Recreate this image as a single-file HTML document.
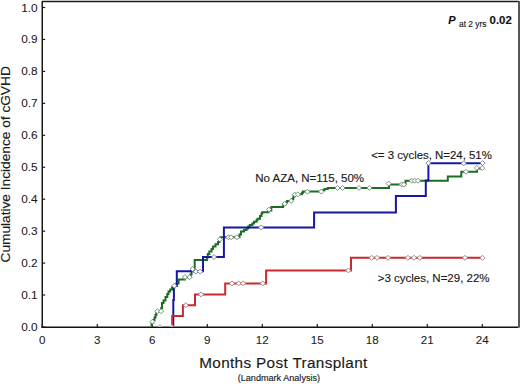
<!DOCTYPE html>
<html><head><meta charset="utf-8"><style>
html,body{margin:0;padding:0;background:#fff;width:520px;height:384px;overflow:hidden}
svg{display:block}
text{font-family:"Liberation Sans",sans-serif;stroke:#1a1a1a;stroke-width:0.15px}
text.t{stroke-width:0.08px}
</style></head><body>
<svg width="520" height="384" viewBox="0 0 520 384" font-family="Liberation Sans, sans-serif">
<rect x="0" y="0" width="520" height="384" fill="#ffffff"/>
<line x1="42.2" y1="1.5" x2="519" y2="1.5" stroke="#1a1a1a" stroke-width="1.3"/>
<line x1="519" y1="1" x2="519" y2="327.7" stroke="#575757" stroke-width="2"/>
<line x1="42.25" y1="1" x2="42.25" y2="327.7" stroke="#1a1a1a" stroke-width="1.5"/>
<line x1="41.5" y1="327.2" x2="518" y2="327.2" stroke="#111" stroke-width="1.5"/>
<line x1="42.5" y1="327.00" x2="45.2" y2="327.00" stroke="#1a1a1a" stroke-width="1.2"/>
<text class="t" x="37.6" y="331.00" font-size="11.8" text-anchor="end" fill="#1a1a1a">0.0</text>
<line x1="42.5" y1="295.05" x2="45.2" y2="295.05" stroke="#1a1a1a" stroke-width="1.2"/>
<text class="t" x="37.6" y="299.05" font-size="11.8" text-anchor="end" fill="#1a1a1a">0.1</text>
<line x1="42.5" y1="263.10" x2="45.2" y2="263.10" stroke="#1a1a1a" stroke-width="1.2"/>
<text class="t" x="37.6" y="267.10" font-size="11.8" text-anchor="end" fill="#1a1a1a">0.2</text>
<line x1="42.5" y1="231.15" x2="45.2" y2="231.15" stroke="#1a1a1a" stroke-width="1.2"/>
<text class="t" x="37.6" y="235.15" font-size="11.8" text-anchor="end" fill="#1a1a1a">0.3</text>
<line x1="42.5" y1="199.20" x2="45.2" y2="199.20" stroke="#1a1a1a" stroke-width="1.2"/>
<text class="t" x="37.6" y="203.20" font-size="11.8" text-anchor="end" fill="#1a1a1a">0.4</text>
<line x1="42.5" y1="167.25" x2="45.2" y2="167.25" stroke="#1a1a1a" stroke-width="1.2"/>
<text class="t" x="37.6" y="171.25" font-size="11.8" text-anchor="end" fill="#1a1a1a">0.5</text>
<line x1="42.5" y1="135.30" x2="45.2" y2="135.30" stroke="#1a1a1a" stroke-width="1.2"/>
<text class="t" x="37.6" y="139.30" font-size="11.8" text-anchor="end" fill="#1a1a1a">0.6</text>
<line x1="42.5" y1="103.35" x2="45.2" y2="103.35" stroke="#1a1a1a" stroke-width="1.2"/>
<text class="t" x="37.6" y="107.35" font-size="11.8" text-anchor="end" fill="#1a1a1a">0.7</text>
<line x1="42.5" y1="71.40" x2="45.2" y2="71.40" stroke="#1a1a1a" stroke-width="1.2"/>
<text class="t" x="37.6" y="75.40" font-size="11.8" text-anchor="end" fill="#1a1a1a">0.8</text>
<line x1="42.5" y1="39.45" x2="45.2" y2="39.45" stroke="#1a1a1a" stroke-width="1.2"/>
<text class="t" x="37.6" y="43.45" font-size="11.8" text-anchor="end" fill="#1a1a1a">0.9</text>
<line x1="42.5" y1="7.50" x2="45.2" y2="7.50" stroke="#1a1a1a" stroke-width="1.2"/>
<text class="t" x="37.6" y="11.50" font-size="11.8" text-anchor="end" fill="#1a1a1a">1.0</text>
<line x1="42.30" y1="324" x2="42.30" y2="327" stroke="#1a1a1a" stroke-width="1.2"/>
<text class="t" x="42.30" y="343.6" font-size="11.6" text-anchor="middle" fill="#1a1a1a">0</text>
<line x1="97.30" y1="324" x2="97.30" y2="327" stroke="#1a1a1a" stroke-width="1.2"/>
<text class="t" x="97.30" y="343.6" font-size="11.6" text-anchor="middle" fill="#1a1a1a">3</text>
<line x1="152.30" y1="324" x2="152.30" y2="327" stroke="#1a1a1a" stroke-width="1.2"/>
<text class="t" x="152.30" y="343.6" font-size="11.6" text-anchor="middle" fill="#1a1a1a">6</text>
<line x1="207.30" y1="324" x2="207.30" y2="327" stroke="#1a1a1a" stroke-width="1.2"/>
<text class="t" x="207.30" y="343.6" font-size="11.6" text-anchor="middle" fill="#1a1a1a">9</text>
<line x1="262.30" y1="324" x2="262.30" y2="327" stroke="#1a1a1a" stroke-width="1.2"/>
<text class="t" x="262.30" y="343.6" font-size="11.6" text-anchor="middle" fill="#1a1a1a">12</text>
<line x1="317.30" y1="324" x2="317.30" y2="327" stroke="#1a1a1a" stroke-width="1.2"/>
<text class="t" x="317.30" y="343.6" font-size="11.6" text-anchor="middle" fill="#1a1a1a">15</text>
<line x1="372.29" y1="324" x2="372.29" y2="327" stroke="#1a1a1a" stroke-width="1.2"/>
<text class="t" x="372.29" y="343.6" font-size="11.6" text-anchor="middle" fill="#1a1a1a">18</text>
<line x1="427.29" y1="324" x2="427.29" y2="327" stroke="#1a1a1a" stroke-width="1.2"/>
<text class="t" x="427.29" y="343.6" font-size="11.6" text-anchor="middle" fill="#1a1a1a">21</text>
<line x1="482.29" y1="324" x2="482.29" y2="327" stroke="#1a1a1a" stroke-width="1.2"/>
<text class="t" x="482.29" y="343.6" font-size="11.6" text-anchor="middle" fill="#1a1a1a">24</text>
<text x="199.2" y="368.4" font-size="15.3" letter-spacing="0.35" fill="#1a1a1a">Months Post Transplant</text>
<text x="237.7" y="380.6" font-size="9.1" fill="#1a1a1a">(Landmark Analysis)</text>
<text transform="translate(10.4,262.5) rotate(-90)" x="0" y="0" font-size="13.7" fill="#1a1a1a">Cumulative Incidence of cGVHD</text>
<text x="255.3" y="182.3" font-size="11.5" fill="#1a1a1a">No AZA, N=115, 50%</text>
<text x="491.8" y="158.8" font-size="11.4" text-anchor="end" fill="#1a1a1a">&lt;= 3 cycles, N=24, 51%</text>
<text x="377.7" y="281.7" font-size="11.5" fill="#1a1a1a">&gt;3 cycles, N=29, 22%</text>
<text x="448.3" y="24.2" font-size="11" font-weight="bold" font-style="italic" fill="#111">P</text>
<text x="459" y="26.5" font-size="8.4" fill="#1a1a1a">at 2 yrs</text>
<text x="489.6" y="24.2" font-size="11.4" font-weight="bold" fill="#111">0.02</text>
<defs><clipPath id="pa"><rect x="43" y="2" width="475" height="324.6"/></clipPath></defs><g clip-path="url(#pa)">
<path d="M151.60,327.00 L151.60,327.00 L151.60,322.50 L153.20,322.50 L153.20,320.00 L154.50,320.00 L154.50,317.50 L155.50,317.50 L155.50,315.00 L156.30,315.00 L156.30,312.50 L157.00,312.50 L157.00,311.20 L161.30,311.20 L161.30,308.00 L162.00,308.00 L162.00,303.00 L163.50,303.00 L163.50,300.50 L165.50,300.50 L165.50,297.00 L167.30,297.00 L167.30,294.00 L168.50,294.00 L168.50,291.50 L170.20,291.50 L170.20,289.50 L172.00,289.50 L172.00,287.50 L174.30,287.50 L174.30,285.50 L176.50,285.50 L176.50,283.50 L178.60,283.50 L178.60,279.40 L185.00,279.40 L185.00,277.30 L190.50,277.30 L190.50,274.50 L191.50,274.50 L191.50,271.00 L193.00,271.00 L193.00,268.50 L194.70,268.50 L194.70,260.00 L206.90,260.00 L206.90,257.50 L207.80,257.50 L207.80,254.00 L209.30,254.00 L209.30,251.50 L211.50,251.50 L211.50,249.00 L213.00,249.00 L213.00,246.50 L215.50,246.50 L215.50,244.20 L218.00,244.20 L218.00,242.00 L219.50,242.00 L219.50,239.30 L220.50,239.30 L220.50,237.30 L239.50,237.30 L239.50,234.50 L241.00,234.50 L241.00,231.50 L244.00,231.50 L244.00,230.00 L246.50,230.00 L246.50,228.50 L248.20,228.50 L248.20,226.50 L249.80,226.50 L249.80,225.00 L252.30,225.00 L252.30,223.50 L254.00,223.50 L254.00,221.80 L256.50,221.80 L256.50,220.20 L257.50,220.20 L257.50,218.80 L260.00,218.80 L260.00,216.00 L261.50,216.00 L261.50,213.50 L262.30,213.50 L262.30,212.20 L268.40,212.20 L268.40,210.50 L271.30,210.50 L271.30,206.90 L283.10,206.90 L283.10,204.50 L285.50,204.50 L285.50,202.50 L287.00,202.50 L287.00,201.00 L292.00,201.00 L292.00,199.00 L293.30,199.00 L293.30,196.50 L294.60,196.50 L294.60,194.30 L302.00,194.30 L302.00,192.80 L303.00,192.80 L303.00,191.60 L321.80,191.60 L321.80,190.20 L324.50,190.20 L324.50,189.00 L327.70,189.00 L327.70,187.90 L389.00,187.90 L389.00,184.40 L405.50,184.40 L405.50,180.70 L447.80,180.70 L447.80,176.50 L461.30,176.50 L461.30,171.80 L477.00,171.80 L477.00,168.40 L482.60,168.40 L482.60,168.40" fill="none" stroke="#1b6e23" stroke-width="2.0" stroke-linejoin="miter" stroke-linecap="square"/>
<path d="M173.30,327.00 L173.30,300.00 L173.90,300.00 L173.90,286.00 L176.80,286.00 L176.80,271.20 L203.00,271.20 L203.00,257.00 L223.90,257.00 L223.90,227.40 L314.10,227.40 L314.10,212.40 L395.90,212.40 L395.90,196.00 L425.80,196.00 L425.80,180.50 L428.40,180.50 L428.40,163.30 L482.70,163.30" fill="none" stroke="#1616a2" stroke-width="2.0" stroke-linejoin="miter" stroke-linecap="square"/>
<path d="M172.20,327.00 L172.20,316.00 L182.90,316.00 L182.90,305.20 L195.00,305.20 L195.00,294.40 L225.20,294.40 L225.20,283.40 L266.10,283.40 L266.10,270.40 L351.00,270.40 L351.00,257.80 L482.50,257.80" fill="none" stroke="#c9282e" stroke-width="2.0" stroke-linejoin="miter" stroke-linecap="square"/>
<path d="M152.50,319.20 L155.00,321.70 L152.50,324.20 L150.00,321.70 Z" fill="#fff" stroke="#6f876f" stroke-width="0.9"/>
<path d="M157.30,308.70 L159.80,311.20 L157.30,313.70 L154.80,311.20 Z" fill="#fff" stroke="#6f876f" stroke-width="0.9"/>
<path d="M161.10,308.70 L163.60,311.20 L161.10,313.70 L158.60,311.20 Z" fill="#fff" stroke="#6f876f" stroke-width="0.9"/>
<path d="M174.30,283.30 L176.80,285.80 L174.30,288.30 L171.80,285.80 Z" fill="#fff" stroke="#6f876f" stroke-width="0.9"/>
<path d="M185.00,274.50 L187.50,277.00 L185.00,279.50 L182.50,277.00 Z" fill="#fff" stroke="#6f876f" stroke-width="0.9"/>
<path d="M189.60,274.70 L192.10,277.20 L189.60,279.70 L187.10,277.20 Z" fill="#fff" stroke="#6f876f" stroke-width="0.9"/>
<path d="M192.60,266.50 L195.10,269.00 L192.60,271.50 L190.10,269.00 Z" fill="#fff" stroke="#6f876f" stroke-width="0.9"/>
<path d="M219.90,236.90 L222.40,239.40 L219.90,241.90 L217.40,239.40 Z" fill="#fff" stroke="#6f876f" stroke-width="0.9"/>
<path d="M228.40,234.80 L230.90,237.30 L228.40,239.80 L225.90,237.30 Z" fill="#fff" stroke="#6f876f" stroke-width="0.9"/>
<path d="M231.10,234.80 L233.60,237.30 L231.10,239.80 L228.60,237.30 Z" fill="#fff" stroke="#6f876f" stroke-width="0.9"/>
<path d="M236.90,234.80 L239.40,237.30 L236.90,239.80 L234.40,237.30 Z" fill="#fff" stroke="#6f876f" stroke-width="0.9"/>
<path d="M268.90,207.10 L271.40,209.60 L268.90,212.10 L266.40,209.60 Z" fill="#fff" stroke="#6f876f" stroke-width="0.9"/>
<path d="M284.70,201.30 L287.20,203.80 L284.70,206.30 L282.20,203.80 Z" fill="#fff" stroke="#6f876f" stroke-width="0.9"/>
<path d="M291.20,198.40 L293.70,200.90 L291.20,203.40 L288.70,200.90 Z" fill="#fff" stroke="#6f876f" stroke-width="0.9"/>
<path d="M294.80,192.10 L297.30,194.60 L294.80,197.10 L292.30,194.60 Z" fill="#fff" stroke="#6f876f" stroke-width="0.9"/>
<path d="M297.90,191.80 L300.40,194.30 L297.90,196.80 L295.40,194.30 Z" fill="#fff" stroke="#6f876f" stroke-width="0.9"/>
<path d="M307.40,189.20 L309.90,191.70 L307.40,194.20 L304.90,191.70 Z" fill="#fff" stroke="#6f876f" stroke-width="0.9"/>
<path d="M321.30,189.10 L323.80,191.60 L321.30,194.10 L318.80,191.60 Z" fill="#fff" stroke="#6f876f" stroke-width="0.9"/>
<path d="M337.50,185.40 L340.00,187.90 L337.50,190.40 L335.00,187.90 Z" fill="#fff" stroke="#6f876f" stroke-width="0.9"/>
<path d="M342.50,185.40 L345.00,187.90 L342.50,190.40 L340.00,187.90 Z" fill="#fff" stroke="#6f876f" stroke-width="0.9"/>
<path d="M359.00,185.40 L361.50,187.90 L359.00,190.40 L356.50,187.90 Z" fill="#fff" stroke="#6f876f" stroke-width="0.9"/>
<path d="M369.40,185.40 L371.90,187.90 L369.40,190.40 L366.90,187.90 Z" fill="#fff" stroke="#6f876f" stroke-width="0.9"/>
<path d="M388.70,181.10 L391.20,183.60 L388.70,186.10 L386.20,183.60 Z" fill="#fff" stroke="#6f876f" stroke-width="0.9"/>
<path d="M401.60,181.90 L404.10,184.40 L401.60,186.90 L399.10,184.40 Z" fill="#fff" stroke="#6f876f" stroke-width="0.9"/>
<path d="M403.80,182.10 L406.30,184.60 L403.80,187.10 L401.30,184.60 Z" fill="#fff" stroke="#6f876f" stroke-width="0.9"/>
<path d="M411.70,178.20 L414.20,180.70 L411.70,183.20 L409.20,180.70 Z" fill="#fff" stroke="#6f876f" stroke-width="0.9"/>
<path d="M414.70,178.20 L417.20,180.70 L414.70,183.20 L412.20,180.70 Z" fill="#fff" stroke="#6f876f" stroke-width="0.9"/>
<path d="M418.00,178.20 L420.50,180.70 L418.00,183.20 L415.50,180.70 Z" fill="#fff" stroke="#6f876f" stroke-width="0.9"/>
<path d="M466.00,169.30 L468.50,171.80 L466.00,174.30 L463.50,171.80 Z" fill="#fff" stroke="#6f876f" stroke-width="0.9"/>
<path d="M476.80,165.40 L479.30,167.90 L476.80,170.40 L474.30,167.90 Z" fill="#fff" stroke="#6f876f" stroke-width="0.9"/>
<path d="M482.30,165.60 L484.80,168.10 L482.30,170.60 L479.80,168.10 Z" fill="#fff" stroke="#6f876f" stroke-width="0.9"/>
<path d="M196.00,269.10 L198.50,271.60 L196.00,274.10 L193.50,271.60 Z" fill="#fff" stroke="#7a7a9a" stroke-width="0.9"/>
<path d="M200.10,269.10 L202.60,271.60 L200.10,274.10 L197.60,271.60 Z" fill="#fff" stroke="#7a7a9a" stroke-width="0.9"/>
<path d="M214.00,254.50 L216.50,257.00 L214.00,259.50 L211.50,257.00 Z" fill="#fff" stroke="#7a7a9a" stroke-width="0.9"/>
<path d="M261.20,224.90 L263.70,227.40 L261.20,229.90 L258.70,227.40 Z" fill="#fff" stroke="#7a7a9a" stroke-width="0.9"/>
<path d="M428.40,160.60 L430.90,163.10 L428.40,165.60 L425.90,163.10 Z" fill="#fff" stroke="#7a7a9a" stroke-width="0.9"/>
<path d="M463.70,160.80 L466.20,163.30 L463.70,165.80 L461.20,163.30 Z" fill="#fff" stroke="#7a7a9a" stroke-width="0.9"/>
<path d="M482.60,160.60 L485.10,163.10 L482.60,165.60 L480.10,163.10 Z" fill="#fff" stroke="#7a7a9a" stroke-width="0.9"/>
<path d="M185.80,302.70 L188.30,305.20 L185.80,307.70 L183.30,305.20 Z" fill="#fff" stroke="#9a7a7a" stroke-width="0.9"/>
<path d="M201.10,291.90 L203.60,294.40 L201.10,296.90 L198.60,294.40 Z" fill="#fff" stroke="#9a7a7a" stroke-width="0.9"/>
<path d="M232.00,280.90 L234.50,283.40 L232.00,285.90 L229.50,283.40 Z" fill="#fff" stroke="#9a7a7a" stroke-width="0.9"/>
<path d="M238.60,280.90 L241.10,283.40 L238.60,285.90 L236.10,283.40 Z" fill="#fff" stroke="#9a7a7a" stroke-width="0.9"/>
<path d="M243.20,280.90 L245.70,283.40 L243.20,285.90 L240.70,283.40 Z" fill="#fff" stroke="#9a7a7a" stroke-width="0.9"/>
<path d="M262.70,280.90 L265.20,283.40 L262.70,285.90 L260.20,283.40 Z" fill="#fff" stroke="#9a7a7a" stroke-width="0.9"/>
<path d="M348.40,267.90 L350.90,270.40 L348.40,272.90 L345.90,270.40 Z" fill="#fff" stroke="#9a7a7a" stroke-width="0.9"/>
<path d="M371.70,255.30 L374.20,257.80 L371.70,260.30 L369.20,257.80 Z" fill="#fff" stroke="#9a7a7a" stroke-width="0.9"/>
<path d="M377.10,255.30 L379.60,257.80 L377.10,260.30 L374.60,257.80 Z" fill="#fff" stroke="#9a7a7a" stroke-width="0.9"/>
<path d="M388.10,255.30 L390.60,257.80 L388.10,260.30 L385.60,257.80 Z" fill="#fff" stroke="#9a7a7a" stroke-width="0.9"/>
<path d="M407.90,255.30 L410.40,257.80 L407.90,260.30 L405.40,257.80 Z" fill="#fff" stroke="#9a7a7a" stroke-width="0.9"/>
<path d="M414.00,255.30 L416.50,257.80 L414.00,260.30 L411.50,257.80 Z" fill="#fff" stroke="#9a7a7a" stroke-width="0.9"/>
<path d="M419.80,255.30 L422.30,257.80 L419.80,260.30 L417.30,257.80 Z" fill="#fff" stroke="#9a7a7a" stroke-width="0.9"/>
<path d="M465.00,255.30 L467.50,257.80 L465.00,260.30 L462.50,257.80 Z" fill="#fff" stroke="#9a7a7a" stroke-width="0.9"/>
<path d="M482.50,255.30 L485.00,257.80 L482.50,260.30 L480.00,257.80 Z" fill="#fff" stroke="#9a7a7a" stroke-width="0.9"/>
<path d="M160.00,324.60 L162.20,326.80 L160.00,329.00 L157.80,326.80 Z" fill="#fff" stroke="#999" stroke-width="0.9"/>
<path d="M171.90,324.60 L174.10,326.80 L171.90,329.00 L169.70,326.80 Z" fill="#fff" stroke="#999" stroke-width="0.9"/>
</g>
</svg>
</body></html>
